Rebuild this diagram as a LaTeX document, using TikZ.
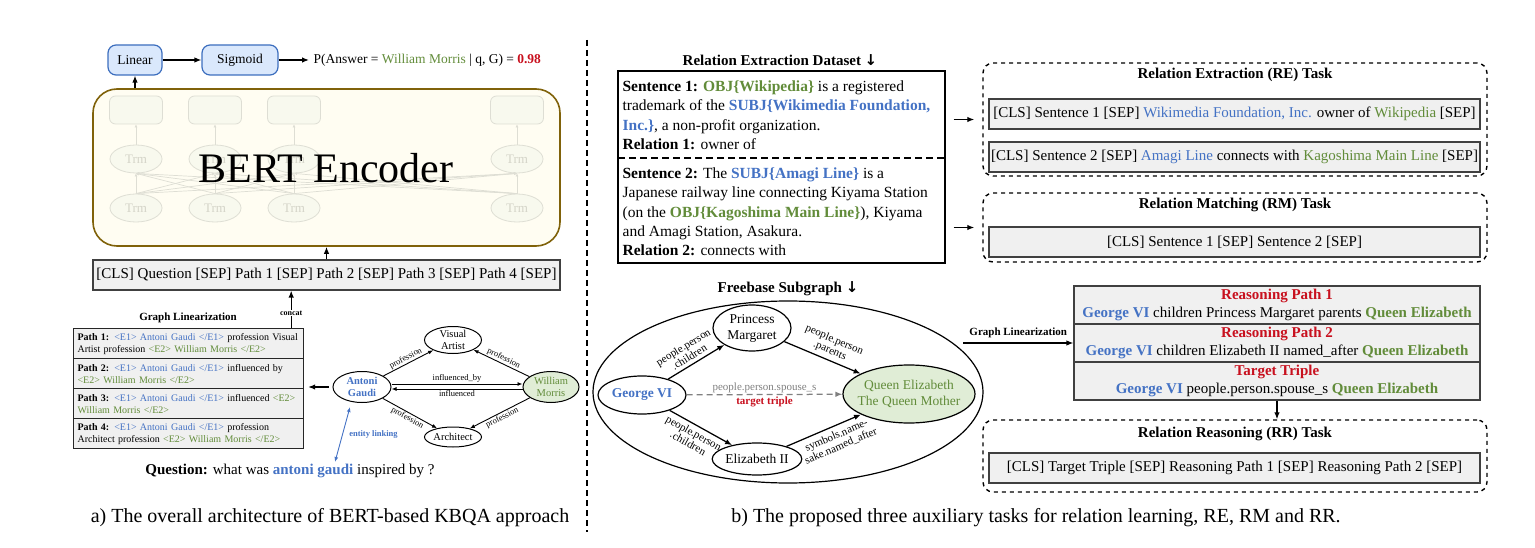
\documentclass[tikz,border=0pt]{standalone}
\usepackage{fontspec}
\setmainfont{Liberation Serif}
\newfontfamily\arrowfont{DejaVu Sans}
\usetikzlibrary{shapes.geometric,arrows.meta}

\definecolor{entblue}{RGB}{68,114,196}
\definecolor{entgreen}{RGB}{98,140,58}
\definecolor{ansred}{RGB}{200,16,30}
\definecolor{boxgray}{RGB}{240,240,240}
\definecolor{nodegreen}{RGB}{224,237,214}
\definecolor{opfill}{RGB}{218,232,252}
\definecolor{opdraw}{RGB}{60,110,190}
\definecolor{bertfill}{RGB}{255,253,242}
\definecolor{bertdraw}{RGB}{128,98,10}
\definecolor{faintdraw}{RGB}{222,222,212}
\definecolor{faintfill}{RGB}{248,249,238}
\definecolor{fainttext}{RGB}{212,212,200}

\tikzset{
  opbox/.style={draw=opdraw, fill=opfill, rounded corners=8pt, line width=1.2pt,
    minimum height=30pt, inner sep=2pt, font=\fontsize{13.5}{16}\selectfont},
  seqbox/.style={draw=black!75, fill=boxgray, line width=1.2pt, minimum height=30pt,
    inner sep=2pt, font=\fontsize{15}{18}\selectfont},
  pathbox/.style={draw=black!85, fill=boxgray, line width=1.2pt, anchor=north west,
    minimum height=30pt, text width=222pt, inner sep=4pt, align=left,
    font=\fontsize{10}{12}\selectfont},
  kgnode/.style={ellipse, draw, line width=1pt, inner sep=0pt, align=center,
    font=\fontsize{10.5}{11.5}\selectfont},
  kglabel/.style={font=\fontsize{8.5}{9}\selectfont, inner sep=1pt},
  fbnode/.style={ellipse, draw, line width=1.2pt, inner sep=0pt, align=center,
    font=\fontsize{13.5}{16}\selectfont},
  fblabel/.style={font=\fontsize{11}{11.5}\selectfont, inner sep=1.5pt, align=center},
  taskbox/.style={draw, line width=1.4pt, dash pattern=on 4pt off 4pt, rounded corners=10pt},
  tasktitle/.style={font=\fontsize{15}{18}\selectfont\bfseries},
  sentence/.style={anchor=north west, align=left, inner sep=2pt,
    font=\fontsize{15.5}{19.4}\selectfont},
  trm/.style={ellipse, draw=faintdraw, fill=faintfill, text=fainttext, line width=0.8pt,
    minimum width=52pt, minimum height=28pt, inner sep=0pt, font=\fontsize{13}{13}\selectfont},
  hidden/.style={draw=faintdraw, fill=faintfill, line width=0.8pt, rounded corners=6pt,
    minimum width=53pt, minimum height=28pt},
  faintline/.style={draw=faintdraw, line width=0.7pt, -{Latex[length=3pt,width=3pt]}},
  caption/.style={font=\fontsize{20}{24}\selectfont}
}

\begin{document}
\begin{tikzpicture}[x=1pt, y=-1pt, >={Latex[length=7pt,width=5.5pt]}, line width=1.25pt]
\useasboundingbox (0,0) rectangle (1535,548);

% ---------- a) BERT-based KBQA ----------
\node[opbox, minimum width=54pt] (linear) at (135,60) {Linear};
\node[opbox, minimum width=76pt] (sigmoid) at (240,60) {Sigmoid};
\node[anchor=west, inner sep=4pt, font=\fontsize{13.5}{16}\selectfont] (prob) at (309,60)
  {P(Answer = \textcolor{entgreen}{William Morris} | q, G) = \textcolor{ansred}{\textbf{0.98}}};
\draw[->] (linear) -- (sigmoid);
\draw[->] (sigmoid) -- (prob);

\node[draw=bertdraw, fill=bertfill, line width=1.6pt, rounded corners=24pt,
  minimum width=467pt, minimum height=157pt] (bert) at (326.5,167.5) {};
\foreach \x in {136,215,294,517} {
  \node[hidden] (out\x) at (\x,110) {};
  \node[trm] (mid\x) at (\x,159) {Trm};
  \node[trm] (low\x) at (\x,208) {Trm};
  \draw[faintline] (mid\x) -- (out\x);
}
\foreach \a in {136,215,294,517}
  \foreach \b in {136,215,294,517}
    \draw[faintline] (low\a.north) -- (mid\b.south);
\node[font=\fontsize{42}{42}\selectfont] (bertlabel) at (326,168) {BERT Encoder};
\draw[->] (bert.north -| linear) -- (linear);

\node[seqbox, minimum width=467pt] (seq) at (326.5,275)
  {[CLS] Question [SEP] Path 1 [SEP] Path 2 [SEP] Path 3 [SEP] Path 4 [SEP]};
\draw[->] (seq) -- (bert);

% linearized paths
\node[font=\fontsize{11}{13}\selectfont\bfseries] (gltitle) at (188,318) {Graph Linearization};
\node[pathbox] (path1) at (73,328) {\textbf{Path 1:} \textcolor{entblue}{<E1> Antoni Gaudi </E1>} profession Visual\\Artist profession \textcolor{entgreen}{<E2> William Morris </E2>}};
\node[pathbox] (path2) at (73,358) {\textbf{Path 2:} \textcolor{entblue}{<E1> Antoni Gaudi </E1>} influenced by\\\textcolor{entgreen}{<E2> William Morris </E2>}};
\node[pathbox] (path3) at (73,388) {\textbf{Path 3:} \textcolor{entblue}{<E1> Antoni Gaudi </E1>} influenced \textcolor{entgreen}{<E2>}\\\textcolor{entgreen}{William Morris </E2>}};
\node[pathbox] (path4) at (73,418) {\textbf{Path 4:} \textcolor{entblue}{<E1> Antoni Gaudi </E1>} profession\\Architect profession \textcolor{entgreen}{<E2> William Morris </E2>}};
\draw[->] ([xshift=-13pt]path1.north east) -- ([xshift=-13pt]path1.north east |- seq.south)
  node[pos=0.4, fill=white, inner sep=1pt, font=\fontsize{8}{9}\selectfont\bfseries] {concat};

% small knowledge graph
\node[kgnode, text=entblue, font=\fontsize{10.5}{11.5}\selectfont\bfseries,
  minimum width=58pt, minimum height=31pt] (gaudi) at (362,387) {Antoni\\Gaudi};
\node[kgnode, inner ysep=-2pt, minimum width=57pt, minimum height=27pt] (artist) at (453,340) {Visual\\Artist};
\node[kgnode, fill=nodegreen, text=entgreen, minimum width=56pt, minimum height=31pt] (morris) at (551,387) {William\\Morris};
\node[kgnode, minimum width=57pt, minimum height=20pt] (architect) at (453,437) {Architect};
\begin{scope}[>={Latex[length=5pt,width=4pt]}, line width=0.9pt]
\draw[->] (gaudi) -- node[kglabel, sloped, above] {profession} (artist);
\draw[->] (morris) -- node[kglabel, sloped, above] {profession} (artist);
\draw[->] (gaudi) -- node[kglabel, sloped, below] {profession} (architect);
\draw[->] (morris) -- node[kglabel, sloped, below] {profession} (architect);
\draw[->] ([yshift=3pt]gaudi.east) -- node[kglabel, above] {influenced\_by} ([yshift=3pt]morris.west);
\draw[<-] ([yshift=-2pt]gaudi.east) -- node[kglabel, below] {influenced} ([yshift=-2pt]morris.west);
\end{scope}
\draw[->, shorten <=4pt, shorten >=4pt] (gaudi.west) -- (gaudi.west -| path2.east);

\coordinate (linktop) at (350,407);
\coordinate (linkend) at (335,462);
\draw[<->, entblue, line width=0.9pt, >={Latex[length=5pt,width=4pt]}] (linktop) -- (linkend)
  node[midway, right=3pt, font=\fontsize{8.5}{9}\selectfont\bfseries] {entity linking};

\node[font=\fontsize{15}{18}\selectfont] (question) at (290,471)
  {\textbf{Question:} what was \textcolor{entblue}{\textbf{antoni gaudi}} inspired by ?};
\node[caption] (capa) at (330,518) {a) The overall architecture of BERT-based KBQA approach};

\draw[dash pattern=on 6pt off 4pt, line width=1.2pt] (587,40) -- (587,532);

% ---------- b) auxiliary tasks ----------
\node[tasktitle] (dstitle) at (780,60) {Relation Extraction Dataset {\arrowfont ↓}};
\node[draw, line width=1.2pt, minimum width=327pt, minimum height=192pt] (sbox) at (781.5,167) {};
\draw[dash pattern=on 7pt off 4pt, line width=1.2pt] (618,158) -- (945,158);
\node[sentence] (sent1) at (620,78) {\textbf{Sentence 1:} \textcolor{entgreen}{\textbf{OBJ\{Wikipedia\}}} is a registered\\trademark of the \textcolor{entblue}{\textbf{SUBJ\{Wikimedia Foundation,}}\\\textcolor{entblue}{\textbf{Inc.\}}}, a non-profit organization.\\\textbf{Relation 1:} owner of};
\node[sentence] (sent2) at (620,165) {\textbf{Sentence 2:} The \textcolor{entblue}{\textbf{SUBJ\{Amagi Line\}}} is a\\Japanese railway line connecting Kiyama Station\\(on the \textcolor{entgreen}{\textbf{OBJ\{Kagoshima Main Line\}}}), Kiyama\\and Amagi Station, Asakura.\\\textbf{Relation 2:} connects with};

% RE task
\node[taskbox, minimum width=504pt, minimum height=113pt] (re) at (1235,119.5) {};
\node[tasktitle] (retitle) at (1235,75) {Relation Extraction (RE) Task};
\node[seqbox, minimum width=491pt] (re1) at (1234.5,114) {[CLS] Sentence 1 [SEP] \textcolor{entblue}{Wikimedia Foundation, Inc.} owner of \textcolor{entgreen}{Wikipedia} [SEP]};
\node[seqbox, minimum width=491pt] (re2) at (1234.5,157) {[CLS] Sentence 2 [SEP] \textcolor{entblue}{Amagi Line} connects with \textcolor{entgreen}{Kagoshima Main Line} [SEP]};

% RM task
\node[taskbox, minimum width=504pt, minimum height=69pt] (rm) at (1235,227.5) {};
\node[tasktitle] (rmtitle) at (1235,205) {Relation Matching (RM) Task};
\node[seqbox, minimum width=491pt] (rm1) at (1234.5,242) {[CLS] Sentence 1 [SEP] Sentence 2 [SEP]};

\draw[->, shorten <=8pt, shorten >=8pt] (re.west -| sbox.east) -- (re.west);
\draw[->, shorten <=8pt, shorten >=8pt] (rm.west -| sbox.east) -- (rm.west);

% Freebase subgraph
\node[tasktitle] (fbtitle) at (788,289) {Freebase Subgraph {\arrowfont ↓}};
\node[ellipse, draw, line width=1.2pt, minimum width=390pt, minimum height=182pt] (fbase) at (788,392) {};
\node[fbnode, text=entblue, font=\fontsize{13.5}{16}\selectfont\bfseries,
  minimum width=88pt, minimum height=38pt] (george) at (642,395) {George VI};
\node[fbnode, minimum width=78pt, minimum height=46pt] (margaret) at (752,328) {Princess\\Margaret};
\node[fbnode, minimum width=88pt, minimum height=32pt] (elizabeth) at (757,459) {Elizabeth II};
\node[fbnode, fill=nodegreen, text=entgreen, inner xsep=-5pt, minimum width=132pt,
  minimum height=58pt] (queen) at (909,394) {Queen Elizabeth\\The Queen Mother};
\draw[->] (george) -- node[fblabel, sloped, above=2pt, pos=0.45] {people.person\\.children} (margaret);
\draw[->] (margaret) -- node[fblabel, sloped, above=2pt, pos=0.55] {people.person\\.parents} (queen);
\draw[->] (george) -- node[fblabel, sloped, below=2pt, pos=0.45] {people.person\\.children} (elizabeth);
\draw[->] (elizabeth) -- node[fblabel, sloped, below=3pt, pos=0.62] {symbols.name-\\sake.named\_after} (queen);
\draw[->, gray, dash pattern=on 6pt off 4pt] (george) --
  node[fblabel, above, text=gray] {people.person.spouse\_s}
  node[fblabel, below, text=ansred, font=\fontsize{11}{11.5}\selectfont\bfseries] {target triple} (queen);

% reasoning paths
\node[seqbox, minimum width=406pt, minimum height=38pt, align=center] (rp1) at (1277,305)
  {\textcolor{ansred}{\textbf{Reasoning Path 1}}\\\textcolor{entblue}{\textbf{George VI}} children Princess Margaret parents \textcolor{entgreen}{\textbf{Queen Elizabeth}}};
\node[seqbox, minimum width=406pt, minimum height=38pt, align=center] (rp2) at (1277,343)
  {\textcolor{ansred}{\textbf{Reasoning Path 2}}\\\textcolor{entblue}{\textbf{George VI}} children Elizabeth II named\_after \textcolor{entgreen}{\textbf{Queen Elizabeth}}};
\node[seqbox, minimum width=406pt, minimum height=38pt, align=center] (tt) at (1277,381)
  {\textcolor{ansred}{\textbf{Target Triple}}\\\textcolor{entblue}{\textbf{George VI}} people.person.spouse\_s \textcolor{entgreen}{\textbf{Queen Elizabeth}}};
\coordinate (glstart) at (963,343);
\draw[->] (glstart) -- (rp2.west)
  node[midway, above=1pt, font=\fontsize{11}{13}\selectfont\bfseries] {Graph Linearization};

% RR task
\node[taskbox, minimum width=504pt, minimum height=72pt] (rr) at (1235,456) {};
\node[tasktitle] (rrtitle) at (1235,434) {Relation Reasoning (RR) Task};
\node[seqbox, minimum width=491pt] (rr1) at (1234.5,468) {[CLS] Target Triple [SEP] Reasoning Path 1 [SEP] Reasoning Path 2 [SEP]};
\draw[->] (tt.south) -- (tt.south |- rr.north);

\node[caption] (capb) at (1036,518) {b) The proposed three auxiliary tasks for relation learning, RE, RM and RR.};

\end{tikzpicture}
\end{document}
